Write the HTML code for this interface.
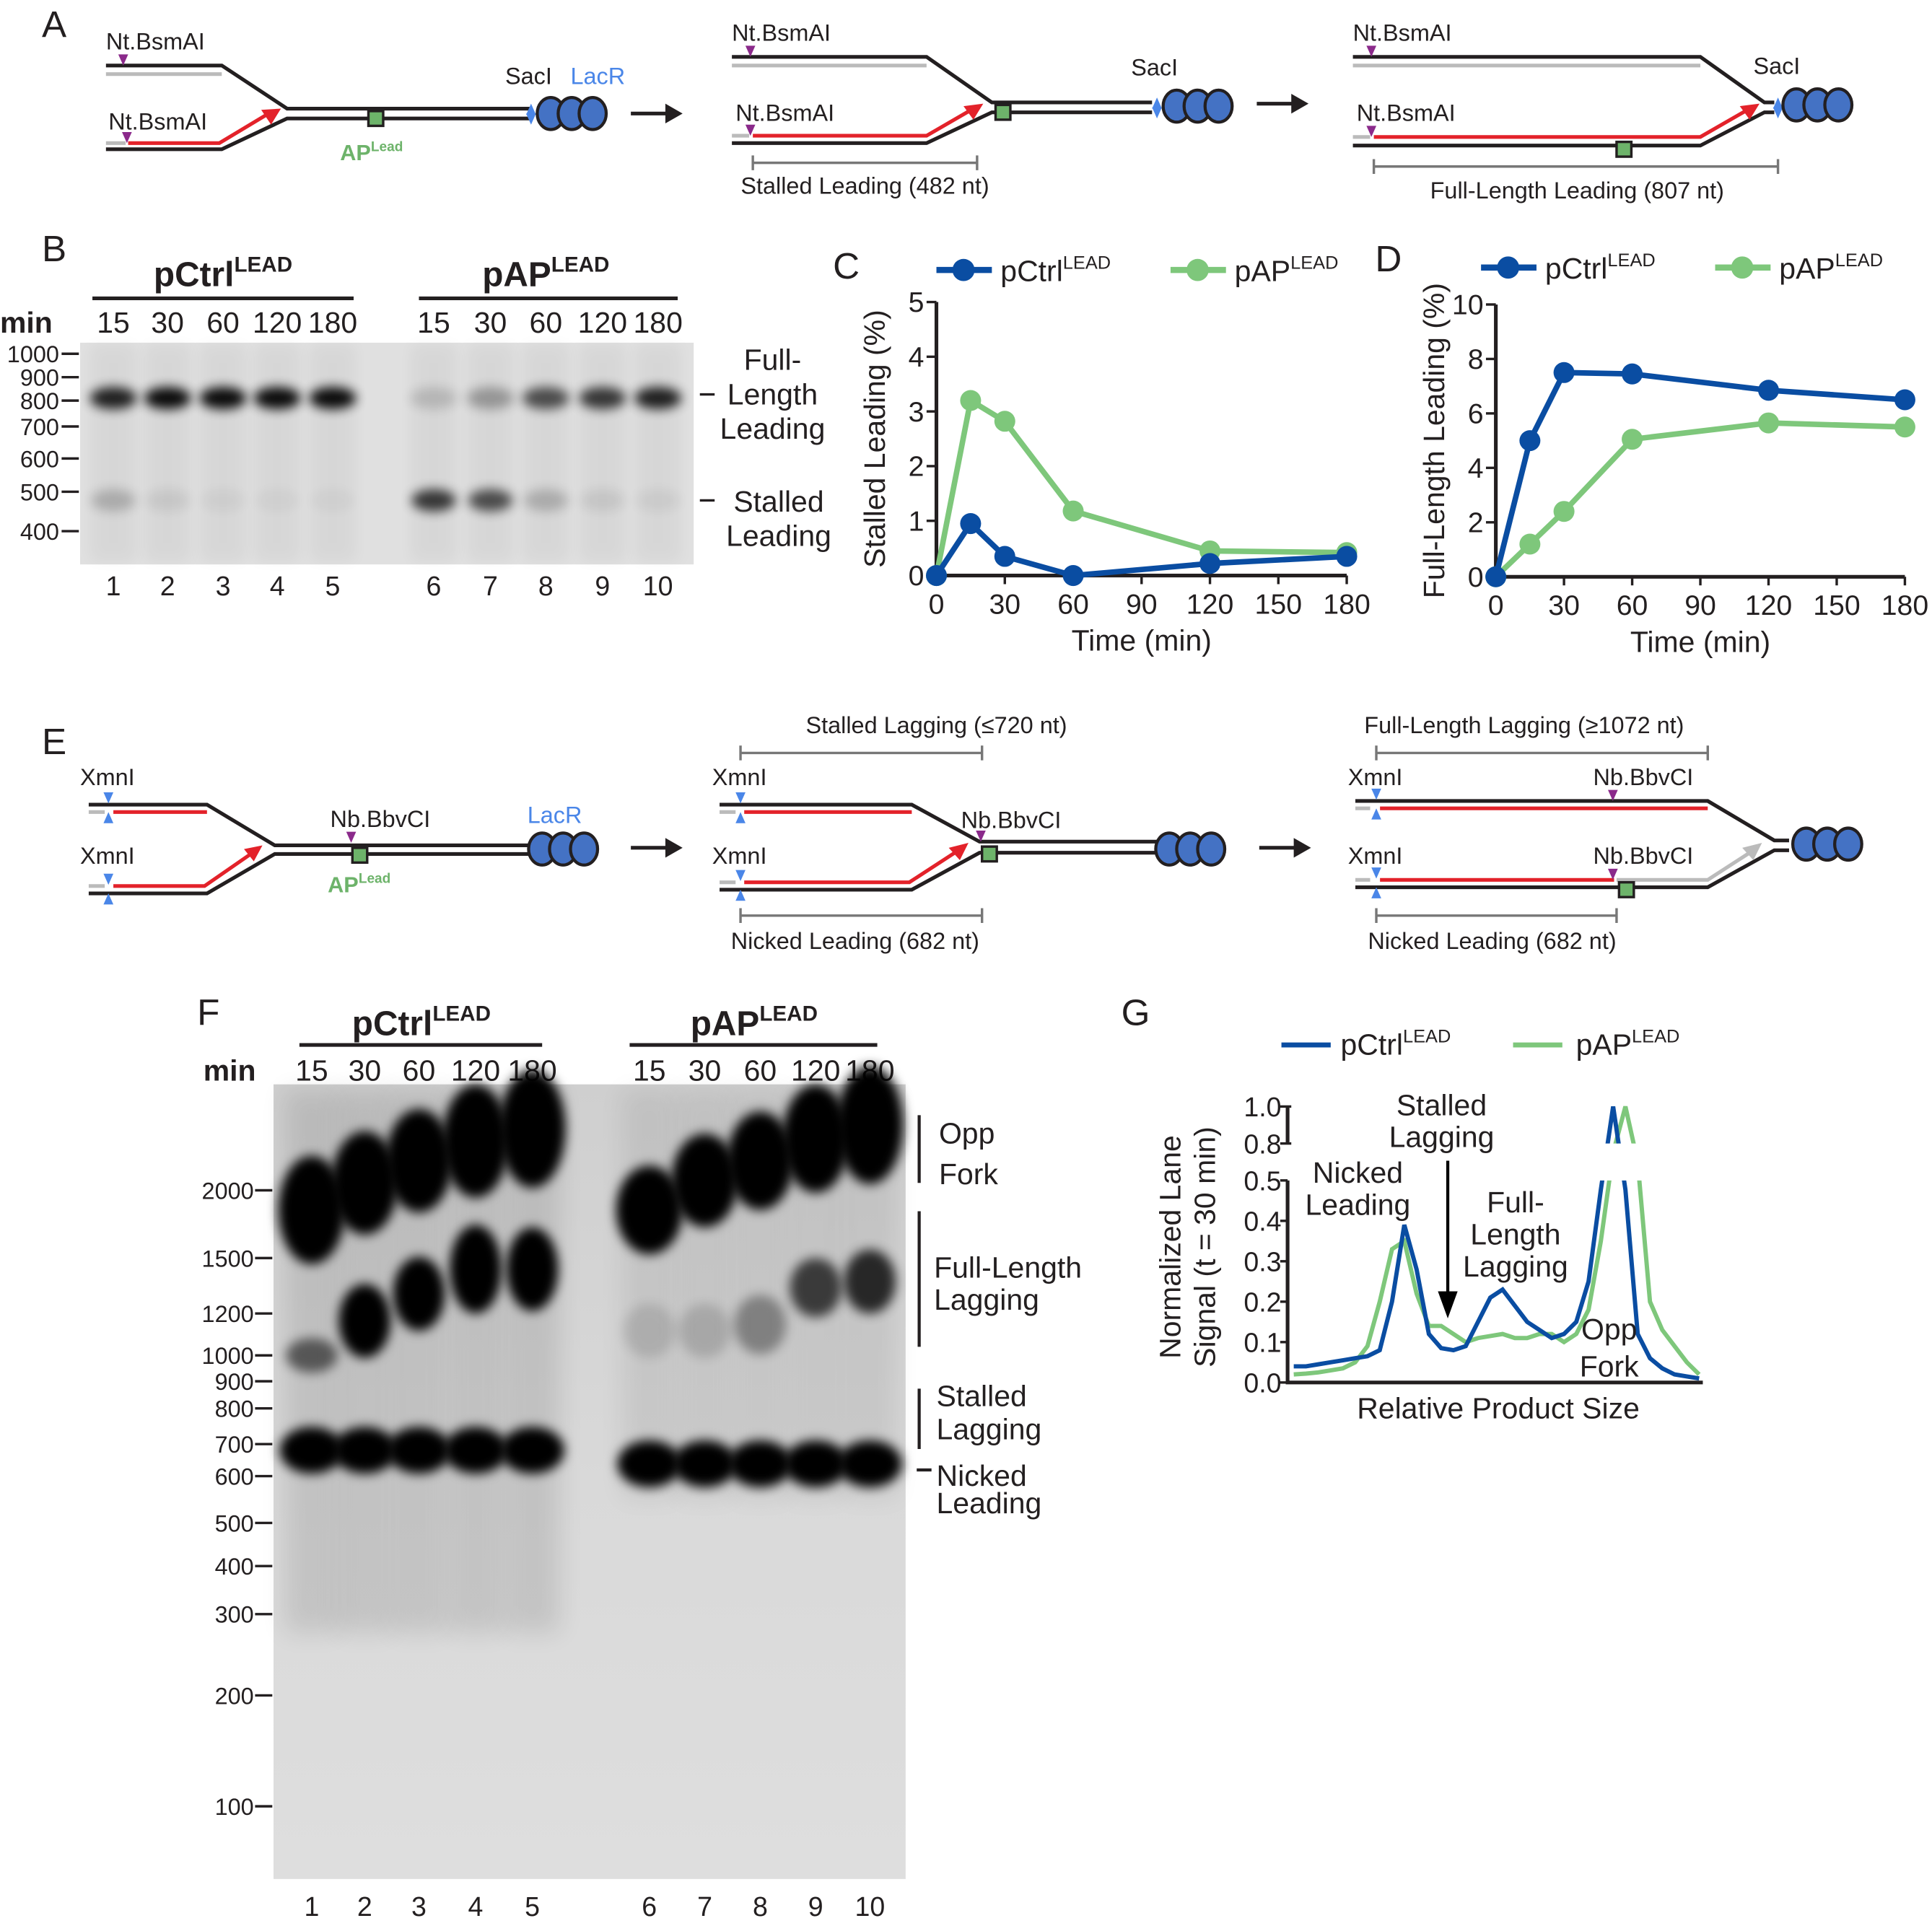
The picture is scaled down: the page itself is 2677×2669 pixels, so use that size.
<!DOCTYPE html>
<html><head><meta charset="utf-8"><style>
html,body{margin:0;padding:0;background:#fff}
svg{display:block}
text{font-family:"Liberation Sans",sans-serif;fill:#231f20}
</style></head><body>
<svg id="fig" width="2677" height="2669" viewBox="0 0 1568 1563" xmlns="http://www.w3.org/2000/svg">
<defs>
<filter id="blur3" x="-50%" y="-50%" width="200%" height="200%"><feGaussianBlur stdDeviation="3"/></filter>
<filter id="blur4" x="-50%" y="-50%" width="200%" height="200%"><feGaussianBlur stdDeviation="4.5"/></filter>
<filter id="blur6" x="-50%" y="-50%" width="200%" height="200%"><feGaussianBlur stdDeviation="6"/></filter>
<filter id="blur10" x="-50%" y="-50%" width="200%" height="200%"><feGaussianBlur stdDeviation="10"/></filter>
<linearGradient id="gelGrad" x1="0" y1="0" x2="0" y2="1"><stop offset="0" stop-color="#cfcfcf"/><stop offset="0.5" stop-color="#d9d9d9"/><stop offset="1" stop-color="#dedede"/></linearGradient>
</defs>
<g id="schem"></g>
<g id="gelB"></g>
<g id="chartC"></g>
<g id="chartD"></g>
<g id="gelF"></g>
<g id="chartG"></g>
</svg>
<script>
// ---------- chart data ----------
const timesC = [0, 15, 30, 60, 120, 180];
const stalledCtrl = [0, 0.95, 0.35, 0.0, 0.22, 0.35];
const stalledAP = [0, 3.2, 2.82, 1.18, 0.45, 0.42];
const ticksCx = [0, 30, 60, 90, 120, 150, 180];
const ticksCy = [0, 1, 2, 3, 4, 5];
const fullCtrl = [0, 5.0, 7.5, 7.45, 6.85, 6.5];
const fullAP = [0, 1.2, 2.4, 5.05, 5.65, 5.5];
const ticksDy = [0, 2, 4, 6, 8, 10];
const profileCtrl = [0.04,0.04,0.045,0.05,0.055,0.06,0.065,0.08,0.2,0.39,0.28,0.12,0.085,0.08,0.09,0.15,0.21,0.23,0.19,0.15,0.13,0.11,0.12,0.15,0.25,0.55,1.0,0.55,0.12,0.06,0.035,0.02,0.015,0.01];
const profileAP = [0.02,0.022,0.025,0.03,0.035,0.05,0.09,0.2,0.33,0.35,0.22,0.14,0.14,0.12,0.1,0.11,0.115,0.12,0.11,0.11,0.12,0.12,0.1,0.12,0.18,0.35,0.75,1.0,0.7,0.2,0.13,0.09,0.05,0.02];
const ticksGy = [0, 0.1, 0.2, 0.3, 0.4, 0.5];
const ticksGyTop = [0.8, 1.0];
const gelFMarkers = [2000,1500,1200,1000,900,800,700,600,500,400,300,200,100];
const gelBMarkers = [1000,900,800,700,600,500,400];

const NS = "http://www.w3.org/2000/svg";
function mk(parent, tag, attrs, txt){
  const e = document.createElementNS(NS, tag);
  for (const k in attrs) e.setAttribute(k, attrs[k]);
  if (txt !== undefined) e.textContent = txt;
  parent.appendChild(e); return e;
}
function T(parent, x, y, s, size, opts){
  opts = opts || {};
  const e = mk(parent, "text", {x:x, y:y, "font-size":size, "text-anchor":opts.anchor||"start", "font-weight":opts.bold?"bold":"normal"});
  if (opts.fill) e.style.fill = opts.fill;
  if (opts.rot) e.setAttribute("transform", "rotate(-90 "+x+" "+y+")");
  if (opts.sup){
    e.textContent = s;
    mk(e, "tspan", {"font-size": size*0.62, dy: -size*0.42}, opts.sup);
  } else e.textContent = s;
  return e;
}
const SVGroot = document.getElementById("fig");

// ---------- schematics ----------
const S = document.getElementById("schem");
function line(p, pts, col, w){ return mk(p, "polyline", {points: pts.map(q=>q.join(",")).join(" "), fill:"none", stroke:col, "stroke-width":w||3}); }
function tri(p, x, y, col, down){ const d = down ? `M${x-4},${y-9} L${x+4},${y-9} L${x},${y}z` : `M${x-4},${y+9} L${x+4},${y+9} L${x},${y}z`; return mk(p,"path",{d:d, fill:col}); }
function lacR(p, x, y){ for (let i=0;i<3;i++) mk(p,"ellipse",{cx:x+i*17, cy:y, rx:11, ry:13, fill:"#4472c4", stroke:"#231f20", "stroke-width":2.5}); }
function sq(p, x, y){ mk(p,"rect",{x:x-6,y:y-6,width:12,height:12,fill:"#6db36a",stroke:"#231f20","stroke-width":2}); }
function bigArrow(p, x, y){ line(p, [[x,y],[x+30,y]], "#231f20", 3); mk(p,"path",{d:`M${x+28},${y-8} L${x+42},${y} L${x+28},${y+8}z`, fill:"#231f20"}); }
function dim(p, x1, x2, y){ line(p, [[x1,y],[x2,y]], "#777", 2); line(p, [[x1,y-6],[x1,y+6]], "#777", 2); line(p, [[x2,y-6],[x2,y+6]], "#777", 2); }

T(S, 34, 30, "A", 30);
(function(){
  line(S, [[86,53],[180,53],[233,88],[430,88]], "#231f20");
  line(S, [[86,60],[180,60]], "#bbb");
  line(S, [[86,121],[180,121],[233,96],[430,96]], "#231f20");
  line(S, [[86,116],[102,116]], "#bbb");
  line(S, [[104,116],[178,116],[218,92]], "#e3222a");
  mk(S,"path",{d:"M212,89 L228,88 L220,101z",fill:"#e3222a"});
  tri(S, 100, 53, "#8b2a8b", true); tri(S,103,116,"#8b2a8b",true);
  T(S, 86, 40, "Nt.BsmAI", 19); T(S, 88, 105, "Nt.BsmAI", 19);
  sq(S, 305, 96); T(S, 276, 130, "AP", 18, {bold:true, fill:"#6db36a", sup:"Lead"});
  tri(S,431,84,"#4a86e8",false); tri(S,431,101,"#4a86e8",true);
  lacR(S, 447, 92); T(S, 410, 68, "SacI", 19); T(S, 463, 68, "LacR", 19, {fill:"#4a86e8"});
  bigArrow(S, 512, 92);
  line(S, [[594,46],[752,46],[805,83],[935,83]], "#231f20");
  line(S, [[594,53],[752,53]], "#bbb");
  line(S, [[594,116],[752,116],[805,91],[935,91]], "#231f20");
  line(S, [[594,110],[608,110]], "#bbb");
  line(S, [[611,110],[752,110],[790,88]], "#e3222a");
  mk(S,"path",{d:"M782,86 L798,84 L790,97z",fill:"#e3222a"});
  tri(S,609,46,"#8b2a8b",true); tri(S,609,110,"#8b2a8b",true);
  sq(S, 814, 91);
  tri(S,939,79,"#4a86e8",false); tri(S,939,96,"#4a86e8",true);
  lacR(S, 955, 86);
  T(S, 594, 33, "Nt.BsmAI", 19); T(S, 597, 98, "Nt.BsmAI", 19); T(S, 918, 61, "SacI", 19);
  dim(S, 611, 793, 132); T(S, 702, 157, "Stalled Leading (482 nt)", 19, {anchor:"middle"});
  bigArrow(S, 1020, 84);
  line(S, [[1098,46],[1380,46],[1432,83],[1440,83]], "#231f20");
  line(S, [[1098,53],[1380,53]], "#bbb");
  line(S, [[1098,118],[1380,118],[1432,91],[1440,91]], "#231f20");
  line(S, [[1098,111],[1112,111]], "#bbb");
  line(S, [[1115,111],[1380,111],[1420,88]], "#e3222a");
  mk(S,"path",{d:"M1412,86 L1428,84 L1420,97z",fill:"#e3222a"});
  tri(S,1113,46,"#8b2a8b",true); tri(S,1113,111,"#8b2a8b",true);
  sq(S, 1318, 121);
  tri(S,1443,79,"#4a86e8",false); tri(S,1443,96,"#4a86e8",true);
  lacR(S, 1458, 85);
  T(S, 1098, 33, "Nt.BsmAI", 19); T(S, 1101, 98, "Nt.BsmAI", 19); T(S, 1423, 60, "SacI", 19);
  dim(S, 1115, 1443, 135); T(S, 1280, 161, "Full-Length Leading (807 nt)", 19, {anchor:"middle"});
})();

T(S, 34, 612, "E", 30);
(function(){
  function xmn(x, y){ tri(S,x,y-4,"#4a86e8",true); tri(S,x,y+3,"#4a86e8",false); }
  line(S, [[72,653],[168,653],[223,686],[430,686]], "#231f20");
  line(S, [[72,659],[85,659]], "#bbb"); line(S, [[92,659],[168,659]], "#e3222a");
  line(S, [[72,725],[168,725],[223,693],[430,693]], "#231f20");
  line(S, [[72,719],[85,719]], "#bbb"); line(S, [[92,719],[166,719],[205,692]], "#e3222a");
  mk(S,"path",{d:"M198,689 L213,686 L206,699z",fill:"#e3222a"});
  xmn(88,656); xmn(88,722);
  T(S, 65, 637, "XmnI", 19); T(S, 65, 701, "XmnI", 19);
  tri(S,285,684,"#8b2a8b",true); sq(S, 292, 694);
  T(S, 268, 671, "Nb.BbvCI", 19); T(S, 266, 724, "AP", 18, {bold:true, fill:"#6db36a", sup:"Lead"});
  lacR(S, 440, 689); T(S, 428, 668, "LacR", 19, {fill:"#4a86e8"});
  bigArrow(S, 512, 688);
  line(S, [[584,653],[740,653],[795,683],[975,683]], "#231f20");
  line(S, [[584,659],[597,659]], "#bbb"); line(S, [[604,659],[740,659]], "#e3222a");
  line(S, [[584,722],[740,722],[795,692],[975,692]], "#231f20");
  line(S, [[584,716],[597,716]], "#bbb"); line(S, [[604,716],[738,716],[778,690]], "#e3222a");
  mk(S,"path",{d:"M770,688 L786,684 L779,698z",fill:"#e3222a"});
  xmn(601,656); xmn(601,719);
  tri(S,796,683,"#8b2a8b",true); sq(S,803,693);
  lacR(S, 949, 689);
  T(S, 578, 637, "XmnI", 19); T(S, 578, 701, "XmnI", 19); T(S, 780, 672, "Nb.BbvCI", 19);
  dim(S, 601, 797, 611); T(S, 760, 595, "Stalled Lagging (≤720 nt)", 19, {anchor:"middle"});
  dim(S, 601, 797, 743); T(S, 694, 770, "Nicked Leading (682 nt)", 19, {anchor:"middle"});
  bigArrow(S, 1022, 688);
  line(S, [[1100,650],[1386,650],[1440,682],[1452,682]], "#231f20");
  line(S, [[1100,656],[1112,656]], "#bbb"); line(S, [[1120,656],[1386,656]], "#e3222a");
  line(S, [[1100,720],[1386,720],[1440,690],[1452,690]], "#231f20");
  line(S, [[1100,714],[1112,714]], "#bbb"); line(S, [[1120,714],[1310,714]], "#e3222a");
  line(S, [[1312,714],[1386,714],[1420,692]], "#bbb");
  mk(S,"path",{d:"M1414,688 L1430,684 L1423,698z",fill:"#bbb"});
  xmn(1117,653); xmn(1117,717);
  tri(S,1309,650,"#8b2a8b",true); tri(S,1309,714,"#8b2a8b",true); sq(S,1320,722);
  lacR(S, 1466, 685);
  T(S, 1094, 637, "XmnI", 19); T(S, 1094, 701, "XmnI", 19); T(S, 1293, 637, "Nb.BbvCI", 19); T(S, 1293, 701, "Nb.BbvCI", 19);
  dim(S, 1117, 1386, 611); T(S, 1237, 595, "Full-Length Lagging (≥1072 nt)", 19, {anchor:"middle"});
  dim(S, 1117, 1312, 743); T(S, 1211, 770, "Nicked Leading (682 nt)", 19, {anchor:"middle"});
})();

function band(g, cx, cy, rx, ry, op, blur){
  const e = mk(g, "ellipse", {cx:cx, cy:cy, rx:rx, ry:ry, fill:"#000", opacity:op, filter:"url(#"+(blur||"blur3")+")"});
  
  
  return e;
}

// ---------- Panel B gel ----------
(function(){
  const G = document.getElementById("gelB");
  T(G, 34, 212, "B", 30);
  mk(G,"rect",{x:65,y:278,width:498,height:180,fill:"#e0e0e0"});
  const lanes = [92,136,181,225,270,352,398,443,489,534];
  const mins = ["15","30","60","120","180"];
  lanes.forEach((x,i)=>{
    mk(G,"rect",{x:x-18,y:280,width:36,height:175,fill:"#000",opacity:0.04,filter:"url(#blur6)"});
    T(G, x, 270, mins[i%5], 24, {anchor:"middle"});
    T(G, x, 483, String(i+1), 22, {anchor:"middle"});
  });
  const fl = [0.85,0.95,0.95,0.95,0.95,0.15,0.3,0.65,0.75,0.85];
  const st = [0.2,0.07,0.04,0.03,0.03,0.75,0.65,0.2,0.08,0.05];
  lanes.forEach((x,i)=>{ band(G,x,323,19,9,fl[i],"blur4"); band(G,x,406,18,9,st[i],"blur4"); });
  line(G, [[75,242],[287,242]], "#231f20", 3); line(G, [[340,242],[550,242]], "#231f20", 3);
  T(G, 181, 232, "pCtrl", 28, {anchor:"middle", bold:true, sup:"LEAD"});
  T(G, 443, 232, "pAP", 28, {anchor:"middle", bold:true, sup:"LEAD"});
  T(G, 0, 270, "min", 24, {bold:true});
  const ys = {1000:287,900:306,800:325,700:346,600:372,500:399,400:431};
  gelBMarkers.forEach(m=>{ const y=ys[m]; line(G, [[50,y],[64,y]], "#231f20", 2); T(G, 48, y+7, String(m), 19, {anchor:"end"}); });
  line(G, [[568,320],[580,320]], "#231f20", 2); line(G, [[568,406],[580,406]], "#231f20", 2);
  T(G, 627, 300, "Full-", 24, {anchor:"middle"}); T(G, 627, 328, "Length", 24, {anchor:"middle"}); T(G, 627, 356, "Leading", 24, {anchor:"middle"});
  T(G, 632, 415, "Stalled", 24, {anchor:"middle"}); T(G, 632, 443, "Leading", 24, {anchor:"middle"});
})();

// ---------- line charts C, D ----------
function lineChart(id, opt){
  const G = document.getElementById(id);
  const x = v => opt.x0 + (v/180)*(opt.x1-opt.x0);
  const y = v => opt.y0 - (v/opt.ymax)*(opt.y0-opt.y1);
  T(G, opt.labX, opt.labY, opt.letter, 30);
  line(G, [[opt.x0,opt.y1],[opt.x0,opt.y0],[opt.x1,opt.y0]], "#231f20", 3);
  opt.yt.forEach(v=>{ line(G, [[opt.x0-8,y(v)],[opt.x0,y(v)]], "#231f20", 2); T(G, opt.x0-10, y(v)+8, String(v), 23, {anchor:"end"}); });
  ticksCx.forEach(v=>{ line(G, [[x(v),opt.y0],[x(v),opt.y0+7]], "#231f20", 2); T(G, x(v), opt.y0+31, String(v), 23, {anchor:"middle"}); });
  T(G, (opt.x0+opt.x1)/2, opt.y0+61, "Time (min)", 24, {anchor:"middle"});
  T(G, opt.x0-42, (opt.y0+opt.y1)/2, opt.ylab, 24, {anchor:"middle", rot:true});
  [[opt.s2,"#7ec77b"],[opt.s1,"#0a4da2"]].forEach(([s,c])=>{
    const pl = mk(G,"polyline",{points: timesC.map((t,i)=>x(t)+","+y(s[i])).join(" "), fill:"none", stroke:c, "stroke-width":4.5});
    
    
    timesC.forEach((t,i)=>{
      const c0 = mk(G,"circle",{cx:x(t), cy:y(s[i]), r:8.5, fill:c});
      
      
    });
  });
  const lx = opt.legX;
  line(G, [[lx,opt.legY],[lx+45,opt.legY]], "#0a4da2", 5); mk(G,"circle",{cx:lx+22,cy:opt.legY,r:9,fill:"#0a4da2"});
  T(G, lx+52, opt.legY+9, "pCtrl", 24, {sup:"LEAD"});
  line(G, [[lx+190,opt.legY],[lx+235,opt.legY]], "#7ec77b", 5); mk(G,"circle",{cx:lx+212,cy:opt.legY,r:9,fill:"#7ec77b"});
  T(G, lx+242, opt.legY+9, "pAP", 24, {sup:"LEAD"});
}
lineChart("chartC", {x0:760,x1:1093,y0:467,y1:245,ymax:5,yt:ticksCy,s1:stalledCtrl,s2:stalledAP,letter:"C",labX:676,labY:226,ylab:"Stalled Leading (%)",legX:760,legY:219});
lineChart("chartD", {x0:1214,x1:1546,y0:468,y1:247,ymax:10,yt:ticksDy,s1:fullCtrl,s2:fullAP,letter:"D",labX:1116,labY:220,ylab:"Full-Length Leading (%)",legX:1202,legY:217});

// ---------- Panel F gel ----------
(function(){
  const G = document.getElementById("gelF");
  T(G, 160, 832, "F", 30);
  mk(G,"rect",{x:222,y:880,width:513,height:645,fill:"url(#gelGrad)"});
  const lanes = [253,296,340,386,432,527,572,617,662,706];
  const mins = ["15","30","60","120","180"];
  lanes.forEach((x,i)=>{
    mk(G,"rect",{x:x-22,y:885,width:44,height:(i<5?440:330),fill:"#000",opacity:(i<5?0.1:0.07),filter:"url(#blur10)"});
    T(G, x, 877, mins[i%5], 24, {anchor:"middle"});
    T(G, x, 1555, String(i+1), 22, {anchor:"middle"});
  });
  const oppY = [982,960,942,926,916,982,958,942,924,913];
  const oppRy = [44,42,42,46,48,36,38,40,44,48];
  lanes.forEach((x,i)=>band(G,x,oppY[i],27,oppRy[i],1,"blur4"));
  const flY = [1100,1072,1050,1030,1030,1080,1080,1075,1045,1040];
  const flOp = [0.55,1,1,1,1,0.12,0.15,0.35,0.7,0.8];
  const flRy = [14,30,30,36,34,22,22,24,24,26];
  lanes.forEach((x,i)=>band(G,x,flY[i],21,flRy[i],flOp[i],"blur4"));
  lanes.forEach((x,i)=>band(G,x,i<5?1177:1188,26,19,1,"blur4"));
  line(G, [[243,848],[440,848]], "#231f20", 3); line(G, [[511,848],[712,848]], "#231f20", 3);
  T(G, 342, 840, "pCtrl", 28, {anchor:"middle", bold:true, sup:"LEAD"});
  T(G, 612, 840, "pAP", 28, {anchor:"middle", bold:true, sup:"LEAD"});
  T(G, 165, 877, "min", 24, {bold:true});
  const ys = {2000:966,1500:1021,1200:1066,1000:1100,900:1121,800:1143,700:1172,600:1198,500:1236,400:1271,300:1310,200:1376,100:1466};
  gelFMarkers.forEach(m=>{ const y=ys[m]; line(G, [[207,y],[221,y]], "#231f20", 2); T(G, 206, y+7, String(m), 19, {anchor:"end"}); });
  line(G, [[746,905],[746,960]], "#231f20", 2.5);
  line(G, [[746,983],[746,1093]], "#231f20", 2.5);
  line(G, [[746,1127],[746,1176]], "#231f20", 2.5);
  line(G, [[744,1193],[756,1193]], "#231f20", 2.5);
  T(G, 762, 928, "Opp", 24); T(G, 762, 961, "Fork", 24);
  T(G, 758, 1037, "Full-Length", 24); T(G, 758, 1063, "Lagging", 24);
  T(G, 760, 1141, "Stalled", 24); T(G, 760, 1168, "Lagging", 24);
  T(G, 760, 1206, "Nicked", 24); T(G, 760, 1228, "Leading", 24);
})();

// ---------- Panel G ----------
(function(){
  const G = document.getElementById("chartG");
  T(G, 910, 832, "G", 30);
  const x0=1045, x1=1382, yb=1122;
  const xs = i => x0 + 5 + i*(x1-x0-8)/(profileCtrl.length-1);
  const y = v => v<=0.5 ? yb - v*328 : 928 - (v-0.8)*150;
  line(G, [[x0,958],[x0,yb],[x1,yb]], "#231f20", 3);
  line(G, [[x0,898],[x0,928]], "#231f20", 3);
  ticksGy.forEach(v=>{ line(G, [[x0-6,y(v)],[x0,y(v)]], "#231f20", 2); T(G, x0-5, y(v)+8, v.toFixed(1), 22, {anchor:"end"}); });
  ticksGyTop.forEach(v=>{ line(G, [[x0-6,y(v)],[x0+3,y(v)]], "#231f20", 2); T(G, x0-5, y(v)+8, v.toFixed(1), 22, {anchor:"end"}); });
  const clip = mk(SVGroot.querySelector("defs"),"clipPath",{id:"gclip"});
  mk(clip,"rect",{x:x0,y:880,width:340,height:48});
  mk(clip,"rect",{x:x0,y:958,width:340,height:166});
  [[profileAP,"#7ec77b"],[profileCtrl,"#0a4da2"]].forEach(([s,c])=>{
    const pl = mk(G,"polyline",{points: s.map((v,i)=>xs(i)+","+y(v)).join(" "), fill:"none", stroke:c, "stroke-width":3.5, "clip-path":"url(#gclip)"});
    
    
  });
  T(G, 1216, 1151, "Relative Product Size", 24, {anchor:"middle"});
  T(G, 958, 1012, "Normalized Lane", 24, {anchor:"middle", rot:true});
  T(G, 986, 1012, "Signal (t = 30 min)", 24, {anchor:"middle", rot:true});
  line(G, [[1040,848],[1080,848]], "#0a4da2", 4); T(G, 1088, 856, "pCtrl", 24, {sup:"LEAD"});
  line(G, [[1228,848],[1268,848]], "#7ec77b", 4); T(G, 1279, 856, "pAP", 24, {sup:"LEAD"});
  T(G, 1102, 960, "Nicked", 24, {anchor:"middle"}); T(G, 1102, 986, "Leading", 24, {anchor:"middle"});
  T(G, 1170, 905, "Stalled", 24, {anchor:"middle"}); T(G, 1170, 931, "Lagging", 24, {anchor:"middle"});
  line(G, [[1175,942],[1175,1050]], "#000", 2.5); mk(G,"path",{d:"M1167,1048 L1183,1048 L1175,1070z",fill:"#000"});
  T(G, 1230, 984, "Full-", 24, {anchor:"middle"}); T(G, 1230, 1010, "Length", 24, {anchor:"middle"}); T(G, 1230, 1036, "Lagging", 24, {anchor:"middle"});
  T(G, 1306, 1087, "Opp", 24, {anchor:"middle"}); T(G, 1306, 1117, "Fork", 24, {anchor:"middle"});
})();
</script>
</body></html>
